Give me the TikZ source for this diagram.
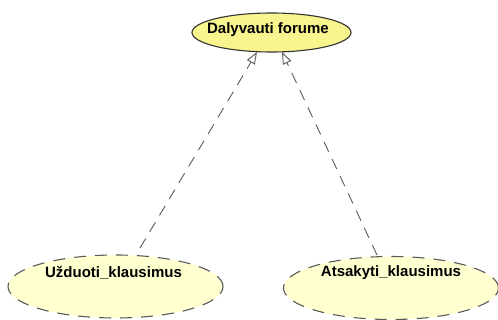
\documentclass[tikz,border=0pt]{standalone}
\usepackage{fontspec}
\setmainfont{Liberation Sans}
\usetikzlibrary{shapes.geometric,arrows.meta}
\definecolor{ucfill}{RGB}{248,244,142}
\definecolor{ucpale}{RGB}{255,255,208}
\definecolor{lineg}{RGB}{90,90,90}
\tikzset{
  ucmain/.style={ellipse, draw=black!80, line width=1.1pt, fill=ucfill,
    minimum width=159pt, minimum height=39pt, inner sep=0pt},
  ucsub/.style={ellipse, draw=lineg, line width=1.1pt, fill=ucpale,
    dash pattern=on 12pt off 9pt, minimum width=215pt, minimum height=63pt, inner sep=0pt},
  uctext/.style={font=\bfseries\fontsize{15}{18}\selectfont, inner sep=0pt},
  extend/.style={draw=lineg, line width=0.9pt, dash pattern=on 11pt off 8pt,
    -{Triangle[open, length=12pt, width=9pt, fill=white]}},
}
\begin{document}
\begin{tikzpicture}[x=1pt,y=-1pt]
  \useasboundingbox (0,0) rectangle (498,320);
  % use cases
  \node[ucmain] (dv) at (271.5,32.5) {};
  \node[uctext] (dvt) at (268,30) {Dalyvauti forume};
  \node[ucsub] (uk) at (115.5,286.5) {};
  \node[uctext] (ukt) at (113.5,273) {Užduoti\_klausimus};
  \node[ucsub] (ak) at (391,288) {};
  \node[uctext] (akt) at (391,273) {Atsakyti\_klausimus};
  % connector end points
  \coordinate (ukTop) at (140,248);
  \coordinate (akTop) at (377,255);
  \coordinate (dvL) at (257,52);
  \coordinate (dvR) at (282,52);
  \draw[extend] (ukTop) -- (dvL);
  \draw[extend] (akTop) -- (dvR);
\end{tikzpicture}
\end{document}
